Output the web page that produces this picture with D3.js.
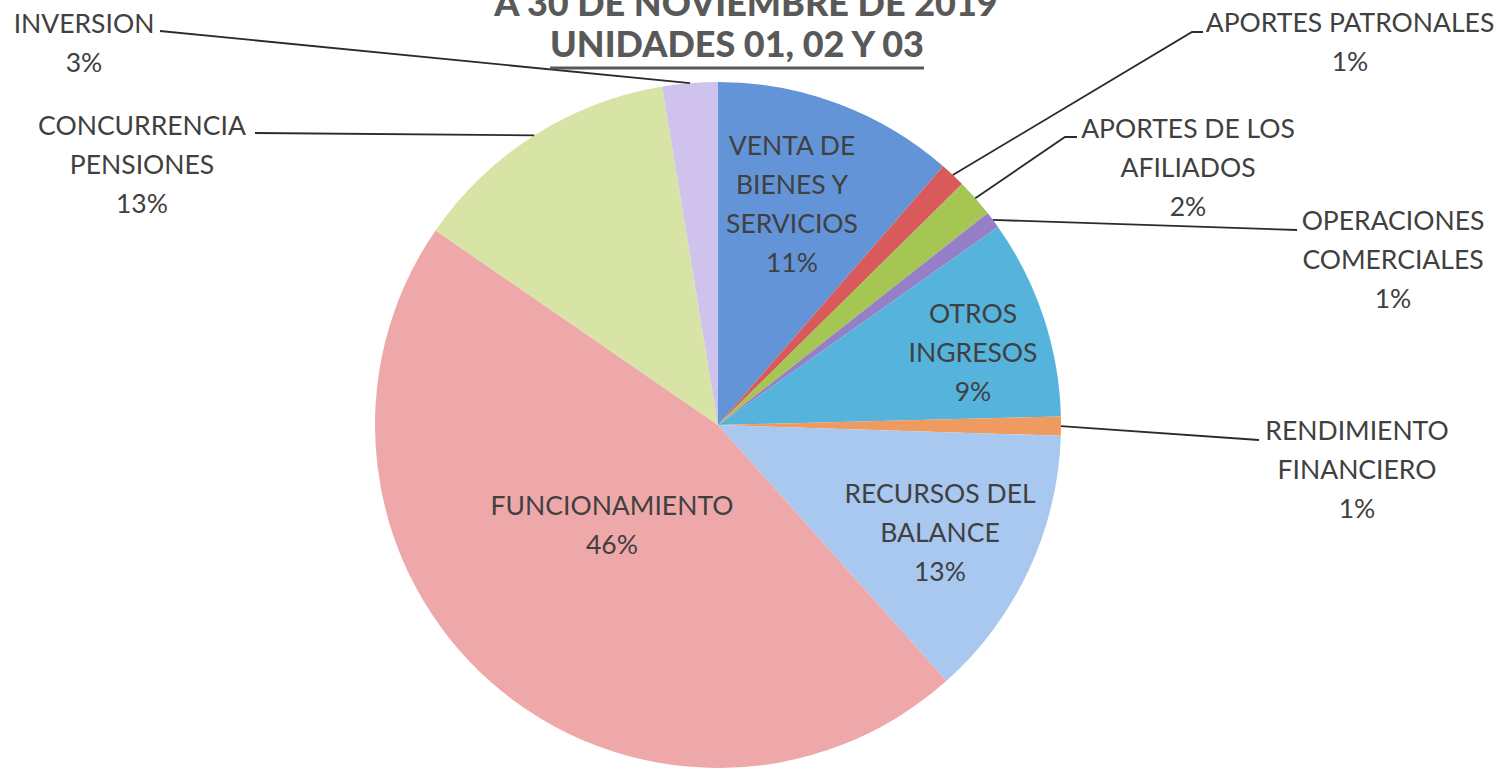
<!DOCTYPE html>
<html><head><meta charset="utf-8">
<script src="https://cdn.jsdelivr.net/npm/d3@7"></script>
<style>
html,body{margin:0;padding:0;background:#fff;}
svg{display:block;}
text{font-family:Lato,"Open Sans",sans-serif;}
</style></head>
<body>
<svg id="chart" width="1503" height="773"></svg>
<script>
// ---- data ----
const categories = ["VENTA DE BIENES Y SERVICIOS","APORTES PATRONALES","APORTES DE LOS AFILIADOS","OPERACIONES COMERCIALES","OTROS INGRESOS","RENDIMIENTO FINANCIERO","RECURSOS DEL BALANCE","FUNCIONAMIENTO","CONCURRENCIA PENSIONES","INVERSION"];
const values = [11.4, 1.2, 1.8, 0.8, 9.4, 0.9, 12.9, 46.2, 12.8, 2.6];
const titleLines = ["A 30 DE NOVIEMBRE DE 2019","UNIDADES 01, 02 Y 03"];
// label line breaks (text as shown)
const labelLines = [
  ["VENTA DE","BIENES Y","SERVICIOS"],
  ["APORTES PATRONALES"],
  ["APORTES DE LOS","AFILIADOS"],
  ["OPERACIONES","COMERCIALES"],
  ["OTROS","INGRESOS"],
  ["RENDIMIENTO","FINANCIERO"],
  ["RECURSOS DEL","BALANCE"],
  ["FUNCIONAMIENTO"],
  ["CONCURRENCIA","PENSIONES"],
  ["INVERSION"]
];
const colors = ["#6394d8","#d85a5a","#a6c653","#9580c8","#55b3dc","#ef9a5e","#a9c8f0","#efa8aa","#d8e4a6","#cfc2ec"];

// ---- layout (positions only) ----
const W = 1503, H = 773;
const cx = 718, cy = 425, R = 343;
const lineH = 39;
const labelLayout = [
  {x:792, y:155},
  {x:1350, y:32, leader:[[1203,32],[1192,32]]},
  {x:1188, y:138, leader:[[1077,137],[1065,137]]},
  {x:1393, y:230, leader:[[1297,230]]},
  {x:973, y:323},
  {x:1357, y:440, leader:[[1259,440]]},
  {x:940, y:503},
  {x:612, y:515},
  {x:142, y:135, leader:[[255,133]]},
  {x:84, y:33, leader:[[160,31]]}
];

const svg = d3.select("#chart");
const g = svg.append("g").attr("transform",`translate(${cx},${cy})`);

const pie = d3.pie().sort(null).value(d=>d).startAngle(0).endAngle(2*Math.PI);
const arcs = pie(values);
const arc = d3.arc().innerRadius(0).outerRadius(R);
const edgeArc = d3.arc().innerRadius(R).outerRadius(R);

g.selectAll("path.slice").data(arcs).join("path")
  .attr("class","slice")
  .attr("d",arc)
  .attr("fill",(d,i)=>colors[i]);

const fmt = v => Math.round(v) + "%";
const total = d3.sum(values);

// leader lines
const line = d3.line();
arcs.forEach((d,i)=>{
  const L = labelLayout[i];
  if(!L.leader) return;
  const p = edgeArc.centroid(d);
  const pts = L.leader.map(q=>[q[0],q[1]]).concat([[p[0]+cx,p[1]+cy]]);
  svg.append("path").attr("d",line(pts)).attr("fill","none")
    .attr("stroke","#2b2b2b").attr("stroke-width",1.8);
});

// labels
arcs.forEach((d,i)=>{
  const L = labelLayout[i];
  const lines = labelLines[i].concat([fmt(values[i]/total*100)]);
  const t = svg.append("text").attr("text-anchor","middle")
    .attr("font-size",26.5).attr("fill","#404040");
  lines.forEach((s,k)=>{
    t.append("tspan").attr("x",L.x).attr("y",L.y + k*lineH).text(s);
  });
});

// title
svg.append("text").attr("x",746).attr("y",16).attr("text-anchor","middle")
  .attr("font-size",36).attr("font-weight","900").attr("fill","#595959").text(titleLines[0]);
const t2 = svg.append("text").attr("x",737).attr("y",57).attr("text-anchor","middle")
  .attr("font-size",36).attr("font-weight","900").attr("fill","#595959").text(titleLines[1]);
const bb = t2.node().getBBox();
svg.append("line").attr("x1",bb.x).attr("x2",bb.x+bb.width).attr("y1",68).attr("y2",68)
  .attr("stroke","#595959").attr("stroke-width",3);
</script>
</body></html>
